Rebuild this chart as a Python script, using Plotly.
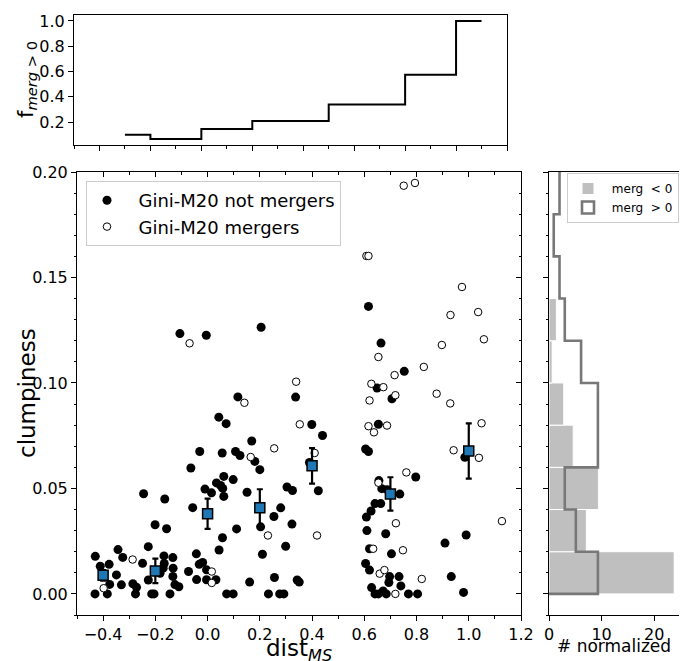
import plotly.graph_objects as go

# ---------------- data ----------------
not_merg_x = [-0.431, -0.384, -0.276, -0.214, -0.205, -0.144, 0.073, 0.098, 0.233, 0.276, 0.292,
              -0.430, -0.411, -0.377, -0.375, -0.349, -0.343, -0.330, -0.325, -0.286, -0.272,
              -0.249, -0.245, -0.227, -0.227, -0.201, -0.182, -0.167, -0.166, -0.164, -0.157,
              -0.170, -0.133, -0.132, -0.133, -0.125, -0.110, -0.106, -0.005, -0.064, -0.073,
              -0.057, -0.042, -0.043, -0.032, -0.019, -0.004, -0.004, 0.032, -0.030, -0.010,
              0.015, 0.044, 0.057, 0.062, 0.043, 0.071, 0.056, 0.107, 0.124, 0.116,
              0.034, 0.050, 0.062, 0.098, 0.058, 0.111, 0.151, 0.169, 0.181, 0.200,
              0.205, 0.161, 0.203, 0.210, 0.254, 0.256, 0.280, 0.299, 0.304, 0.325,
              0.323, 0.343, 0.351, 0.337, 0.399, 0.440, 0.424, 0.390,
              0.616, 0.664, 0.649, 0.706, 0.654, 0.753, 0.605, 0.616, 0.797, 0.656,
              0.667, 0.687, 0.736, 0.608, 0.626, 0.641, 0.663, 0.610, 0.682, 0.620,
              0.704, 0.605, 0.620, 0.697, 0.733, 0.694, 0.740, 0.628, 0.641, 0.654,
              0.672, 0.684, 0.769, 0.804, 0.909, 0.933, 0.980, 0.990, 0.985]
not_merg_y = [0.000, 0.000, 0.000, 0.000, 0.000, 0.000, 0.000, 0.000, 0.000, 0.000, 0.000,
              0.0178, 0.0131, 0.0140, 0.0045, 0.0090, 0.0210, 0.0043, 0.0173, 0.0048, 0.0031,
              0.0145, 0.0475, 0.0066, 0.0224, 0.0328, 0.0098, 0.0180, 0.0144, 0.0450, 0.0309,
              0.0122, 0.0172, 0.0122, 0.0083, 0.0044, 0.0034, 0.1234, 0.1226, 0.0597, 0.0106,
              0.0409, 0.0068, 0.0190, 0.0140, 0.0149, 0.0114, 0.0067, 0.0067, 0.0675, 0.0497,
              0.0479, 0.0208, 0.0266, 0.0462, 0.0838, 0.0807, 0.0668, 0.0675, 0.0656, 0.0934,
              0.0526, 0.0514, 0.0557, 0.0542, 0.0500, 0.0308, 0.0482, 0.0725, 0.0628, 0.0589,
              0.1264, 0.0056, 0.0318, 0.0188, 0.0367, 0.0078, 0.0408, 0.0226, 0.0507, 0.0490,
              0.0331, 0.0066, 0.0056, 0.0933, 0.0803, 0.0751, 0.0489, 0.0623,
              0.1363, 0.1189, 0.0976, 0.0925, 0.0804, 0.1055, 0.0687, 0.0675, 0.0554, 0.0537,
              0.0499, 0.0494, 0.0473, 0.0364, 0.0393, 0.0428, 0.0428, 0.0300, 0.0285, 0.0214,
              0.0190, 0.0144, 0.0113, 0.0082, 0.0082, 0.0054, 0.0038, 0.0030, 0.0000, 0.0000,
              0.0014, 0.0000, 0.0000, 0.0000, 0.0241, 0.0082, 0.0007, 0.0279, 0.0648]

merg_x = [-0.398, -0.287, -0.069, 0.016, 0.016, 0.141, 0.165, 0.255, 0.231, 0.339, 0.353,
          0.410, 0.419, 0.608, 0.616, 0.751, 0.794, 0.654, 0.627, 0.673, 0.620, 0.716,
          0.719, 0.828, 0.897, 0.974, 0.930, 1.036, 1.058, 0.877, 0.929, 0.616, 0.637,
          0.687, 1.049, 0.942, 1.039, 0.761, 0.654, 0.721, 1.127, 0.634, 0.748, 0.659,
          0.677, 0.820, 0.719]
merg_y = [0.0027, 0.0163, 0.1188, 0.0106, 0.0052, 0.0906, 0.0649, 0.0690, 0.0277, 0.1006, 0.0804,
          0.0668, 0.0277, 0.1602, 0.1602, 0.1935, 0.1948, 0.1123, 0.0996, 0.0980, 0.0917, 0.1037,
          0.0942, 0.1076, 0.1180, 0.1455, 0.1322, 0.1336, 0.1207, 0.0949, 0.0903, 0.0795, 0.0766,
          0.0798, 0.0809, 0.0681, 0.0645, 0.0576, 0.0527, 0.0335, 0.0345, 0.0214, 0.0207, 0.0096,
          0.0113, 0.0071, 0.0000]

bin_x = [-0.4, -0.2, 0.0, 0.2, 0.4, 0.7, 1.0]
bin_y = [0.0088, 0.0109, 0.0380, 0.0409, 0.0607, 0.0474, 0.0677]
bin_err = [0.0025, 0.0058, 0.0072, 0.0087, 0.0084, 0.0079, 0.0131]

# top panel: merger fraction step function (steps-post)
frac_edges = [-0.3, -0.2, 0.0, 0.2, 0.5, 0.8, 1.0, 1.1]
frac_vals = [0.10, 0.066, 0.145, 0.208, 0.34, 0.575, 1.0, 1.0]

# right panel: normalized histograms of clumpiness
hist_edges = [0.00, 0.02, 0.04, 0.06, 0.08, 0.10, 0.12, 0.14, 0.16, 0.18, 0.22]
hist_not_merg = [23.8, 7.1, 9.4, 4.6, 2.8, 0.6, 1.4, 0.0, 0.0, 0.0]
hist_merg = [9.3, 5.1, 3.0, 9.3, 9.3, 6.1, 3.0, 2.0, 0.9, 2.0]

# ---------------- layout geometry ----------------
# the page body has an 8px margin, so the figure is drawn from (8, 8)
OFF = 8
W, H = 687 - OFF, 661 - OFF
def px(a):
    return (a - OFF) / W
def py(b):
    return 1 - (b - OFF) / H
def dx(a, b):
    return [px(a), px(b)]
def dy(top, bottom):
    return [py(bottom), py(top)]

FONT = "DejaVu Sans"
TICKF = dict(family=FONT, size=16, color="black")
NB = "\u00a0"

fig = go.Figure()

# main scatter
fig.add_trace(go.Scatter(x=not_merg_x, y=not_merg_y, mode="markers",
                         name=NB * 2 + "Gini-M20 not mergers",
                         marker=dict(color="black", size=9, line=dict(width=0)),
                         xaxis="x", yaxis="y", legend="legend"))
fig.add_trace(go.Scatter(x=merg_x, y=merg_y, mode="markers",
                         name=NB * 2 + "Gini-M20 mergers",
                         marker=dict(color="white", size=7.5, line=dict(color="black", width=1)),
                         xaxis="x", yaxis="y", legend="legend"))
fig.add_trace(go.Scatter(x=bin_x, y=bin_y, mode="markers", showlegend=False,
                         marker=dict(symbol="square", color="#1f77b4", size=10,
                                     line=dict(color="black", width=1.5)),
                         error_y=dict(type="data", array=bin_err, color="black",
                                      thickness=2.2, width=3),
                         xaxis="x", yaxis="y"))

# top panel step
fig.add_trace(go.Scatter(x=frac_edges, y=frac_vals, mode="lines", line_shape="hv",
                         line=dict(color="black", width=2), showlegend=False,
                         xaxis="x2", yaxis="y2"))

# right panel histograms
centers = [(hist_edges[i] + hist_edges[i + 1]) / 2 for i in range(len(hist_not_merg))]
widths = [hist_edges[i + 1] - hist_edges[i] for i in range(len(hist_not_merg))]
fig.add_trace(go.Bar(x=hist_not_merg, y=centers, width=widths, orientation="h",
                     base=0, name=NB + "merg  < 0",
                     marker=dict(color="rgb(191,191,191)", line=dict(color="white", width=1)),
                     xaxis="x3", yaxis="y3", legend="legend2"))
step_x, step_y = [0], [hist_edges[0]]
for i, v in enumerate(hist_merg):
    step_x += [v, v]
    step_y += [hist_edges[i], hist_edges[i + 1]]
step_x.append(0)
step_y.append(hist_edges[-1])
fig.add_trace(go.Scatter(x=step_x, y=step_y, mode="lines", showlegend=False,
                         line=dict(color="rgb(120,120,120)", width=2.6),
                         xaxis="x3", yaxis="y3"))
fig.add_trace(go.Bar(x=[None], y=[None], orientation="h", name=NB + "merg  > 0",
                     marker=dict(color="rgba(0,0,0,0)", line=dict(color="rgb(120,120,120)", width=2.6)),
                     xaxis="x3", yaxis="y3", legend="legend2"))

# invisible trace for inward mirror ticks of main panel
fig.add_trace(go.Scatter(x=[0], y=[0], mode="markers", marker=dict(opacity=0),
                         showlegend=False, hoverinfo="skip", xaxis="x4", yaxis="y4"))

MAIN_X = dx(77, 521)
MAIN_Y = dy(172, 615)
axis_common = dict(showline=True, linecolor="black", linewidth=1, mirror=True,
                   showgrid=False, zeroline=False, tickcolor="black", tickfont=TICKF)

fig.update_layout(
    width=W, height=H, autosize=False,
    margin=dict(l=0, r=0, t=0, b=0),
    template="none",
    paper_bgcolor="white", plot_bgcolor="white",
    font=dict(family=FONT, color="black"),
    barmode="overlay",
    xaxis=dict(domain=MAIN_X, anchor="y", range=[-0.5, 1.2], dtick=0.2, tick0=0,
               tickformat=".1f", ticks="outside", ticklen=5,
               minor=dict(dtick=0.1, ticks="outside", ticklen=2.5, tickcolor="black"),
               **axis_common),
    yaxis=dict(domain=MAIN_Y, anchor="x", range=[-0.01, 0.2], dtick=0.05, tick0=0,
               tickformat=".2f", ticks="outside", ticklen=5,
               minor=dict(dtick=0.01, ticks="outside", ticklen=2.5, tickcolor="black"),
               **axis_common),
    xaxis4=dict(overlaying="x", anchor="y4", side="top", range=[-0.5, 1.2], dtick=0.2, tick0=0,
                ticks="inside", ticklen=5, showticklabels=False, showline=False,
                showgrid=False, zeroline=False, tickcolor="black",
                minor=dict(dtick=0.1, ticks="inside", ticklen=2.5, tickcolor="black")),
    yaxis4=dict(overlaying="y", anchor="x4", side="right", range=[-0.01, 0.2], dtick=0.05, tick0=0,
                ticks="inside", ticklen=5, showticklabels=False, showline=False,
                showgrid=False, zeroline=False, tickcolor="black",
                minor=dict(dtick=0.01, ticks="inside", ticklen=2.5, tickcolor="black")),
    xaxis2=dict(domain=dx(74, 507), anchor="y2", range=[-0.5, 1.2], dtick=0.2, tick0=0,
                ticks="outside", ticklen=5, showticklabels=False,
                minor=dict(dtick=0.1, ticks="outside", ticklen=2.5, tickcolor="black"),
                **axis_common),
    yaxis2=dict(domain=dy(15, 145), anchor="x2", range=[0.019, 1.047], dtick=0.2, tick0=0,
                tickformat=".1f", ticks="outside", ticklen=5,
                **axis_common),
    xaxis3=dict(domain=dx(549, 681), anchor="y3", range=[0, 25.1], dtick=10, tick0=0,
                ticks="outside", ticklen=5, **axis_common),
    yaxis3=dict(domain=MAIN_Y, anchor="x3", range=[-0.01, 0.2], dtick=0.05, tick0=0,
                ticks="outside", ticklen=5, showticklabels=False,
                minor=dict(dtick=0.01, ticks="outside", ticklen=2.5, tickcolor="black"),
                **axis_common),
    legend=dict(x=px(86), y=py(181), xanchor="left", yanchor="top",
                bgcolor="rgba(255,255,255,0.85)", bordercolor="#cccccc", borderwidth=1,
                font=dict(family=FONT, size=18, color="black"), itemwidth=30,
                tracegroupgap=2),
    legend2=dict(x=px(567), y=py(173), xanchor="left", yanchor="top",
                 bgcolor="rgba(255,255,255,0.85)", bordercolor="#cccccc", borderwidth=1,
                 font=dict(family=FONT, size=12, color="black"), itemwidth=30),
    annotations=[
        dict(text="clumpiness", x=px(27), y=py(393), xref="paper", yref="paper",
             textangle=-90, showarrow=False, font=dict(family=FONT, size=23, color="black"),
             xanchor="center", yanchor="middle"),
        dict(text="dist<sub><i>MS</i></sub>", x=px(299), y=py(633), xref="paper", yref="paper",
             showarrow=False, font=dict(family=FONT, size=23, color="black"),
             xanchor="center", yanchor="top"),
        dict(text="f<sub><i>merg</i> > 0</sub>", x=px(27), y=py(80), xref="paper", yref="paper",
             textangle=-90, showarrow=False, font=dict(family=FONT, size=21, color="black"),
             xanchor="center", yanchor="middle"),
        dict(text="# normalized", x=px(614), y=py(634), xref="paper", yref="paper",
             showarrow=False, font=dict(family=FONT, size=17, color="black"),
             xanchor="center", yanchor="top"),
    ],
)

fig.write_html("out.html")
